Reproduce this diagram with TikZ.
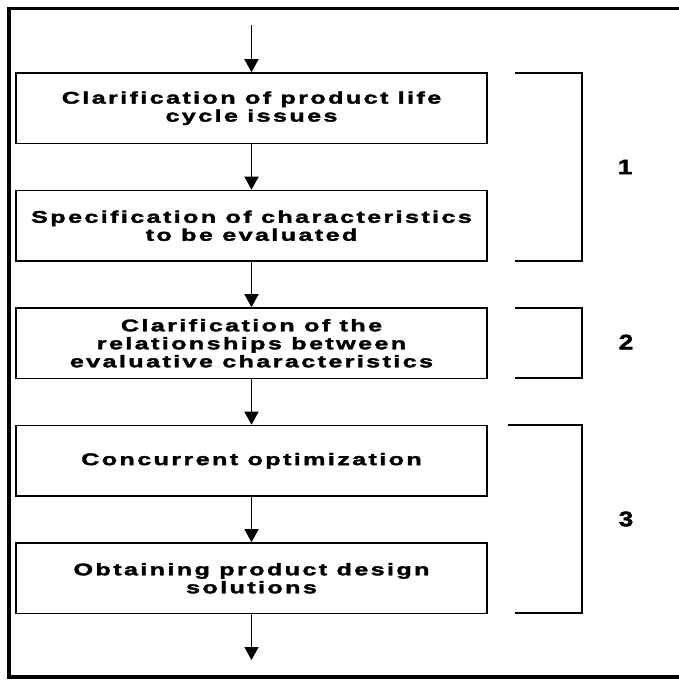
\documentclass[tikz,border=0pt]{standalone}
\usepackage{fontspec}
\setmainfont{Liberation Sans}
\newfontfamily\stepfont{Liberation Sans}[FakeStretch=1.5,LetterSpace=14,FakeBold=2]
\newfontfamily\phasefont{Liberation Sans}[FakeStretch=1.25,FakeBold=2]
\usetikzlibrary{arrows.meta}

\begin{document}
\begin{tikzpicture}[x=1pt,y=-1pt,
  stepbox/.style={draw, line width=1.6pt, minimum width=471pt, minimum height=70.5pt,
    inner sep=0pt, align=center, font=\stepfont\bfseries\fontsize{16.8}{18}\selectfont},
  flow/.style={line width=1.6pt, -{Triangle[length=13pt,width=14pt]}},
  bracket/.style={line width=1.6pt},
  phase/.style={font=\phasefont\bfseries\fontsize{21}{21}\selectfont},
  frame/.style={line width=3.5pt}]

\useasboundingbox (0,0) rectangle (679,681);

% outer frame, open on the right
\draw[frame] (684,8.5) -- (9,8.5) -- (9,677) -- (684,677);

% process steps
\node[stepbox] (a) at (251.5,108.25) {Clarification of product life\\cycle issues};
\node[stepbox] (b) at (251.5,225.75) {Specification of characteristics\\to be evaluated};
\node[stepbox] (c) at (251.5,343.25) {Clarification of the\\relationships between\\evaluative characteristics};
\node[stepbox] (d) at (251.5,460.75) {Concurrent optimization};
\node[stepbox] (e) at (251.5,578.25) {Obtaining product design\\solutions};

\coordinate (in) at (251.5,25);
\coordinate (out) at (251.5,660);

\draw[flow] (in) -- (a);
\draw[flow] (a) -- (b);
\draw[flow] (b) -- (c);
\draw[flow] (c) -- (d);
\draw[flow] (d) -- (e);
\draw[flow] (e) -- (out);

% phase brackets
\coordinate (p1t) at (515,73);   \coordinate (p1b) at (515,261);
\coordinate (p2t) at (515,308);  \coordinate (p2b) at (515,378);
\coordinate (p3t) at (508,425);  \coordinate (p3b) at (515,613);

\draw[bracket] (p1t) -- (582,73) -- (582,261) -- (p1b);
\draw[bracket] (p2t) -- (582,308) -- (582,378) -- (p2b);
\draw[bracket] (p3t) -- (582,425) -- (582,613) -- (p3b);

\node[phase] (n1) at (625,167) {1};
\node[phase] (n2) at (626,342) {2};
\node[phase] (n3) at (626,519) {3};

\end{tikzpicture}
\end{document}
